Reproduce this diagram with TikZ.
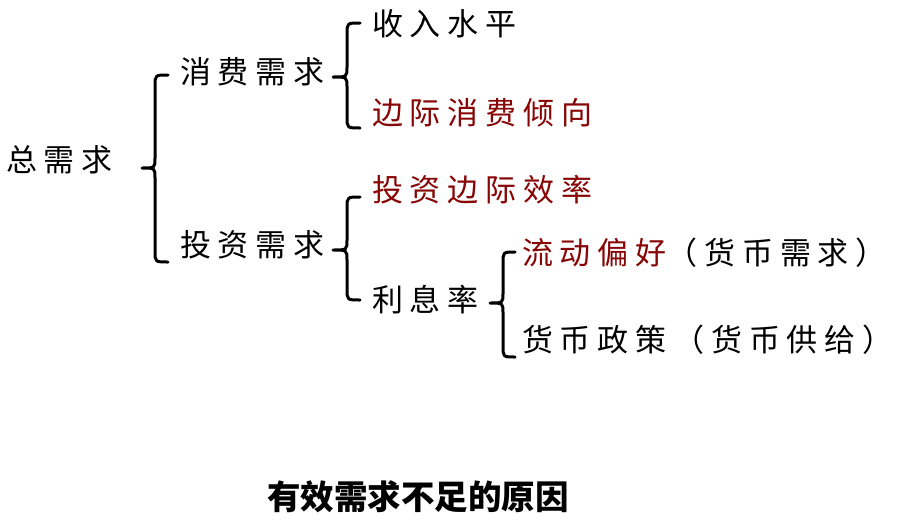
\documentclass[tikz,border=0pt]{standalone}
\usepackage{fontspec}
\newfontfamily\cjk[LetterSpace=22]{Noto Sans CJK SC}
\newfontfamily\cjkcap{Noto Sans CJK SC}
\definecolor{darkred}{RGB}{135,5,5}
\newcommand\mybrace[6]{% tip x, line x, end x, top y, mid y, bottom y
  \draw[bracestyle] (#3,#4) .. controls (#2,#4) .. (#2,#4+11) -- (#2,#5-10)
    .. controls (#2,#5) .. (#1,#5) .. controls (#2,#5) .. (#2,#5+10)
    -- (#2,#6-11) .. controls (#2,#6) .. (#3,#6);}
\begin{document}
\begin{tikzpicture}[x=1pt,y=-1pt,
  lbl/.style={anchor=west,inner sep=0pt,font=\cjk\fontsize{31}{36}\selectfont},
  hot/.style={lbl,text=darkred},
  bracestyle/.style={line width=3pt,line cap=round,line join=round}]
\useasboundingbox[fill=white] (0,0) rectangle (917,525);
\node[lbl] (zxq) at (6,160) {总需求};
\node[lbl] (xf) at (180,72) {消费需求};
\node[lbl] (tz) at (180,245) {投资需求};
\node[lbl] (sr) at (372,24) {收入水平};
\node[hot] (bj) at (372,113) {边际消费倾向};
\node[hot] (tzbj) at (372,190) {投资边际效率};
\node[lbl] (lx) at (372,300) {利息率};
\node[lbl] (ld) at (522,253) {\textcolor{darkred}{流动偏好}（货币需求）};
\node[lbl] (hb) at (522,340) {货币政策（货币供给）};
\node[inner sep=0pt,font=\cjkcap\bfseries\fontsize{33.5}{36}\selectfont] (cap) at (418,497) {有效需求不足的原因};
\mybrace{142}{155}{168}{75}{168}{262}
\mybrace{333}{347}{360}{23}{77}{128}
\mybrace{333}{347}{360}{197}{250}{300}
\mybrace{490}{503}{515}{252}{303}{357}
\end{tikzpicture}
\end{document}
